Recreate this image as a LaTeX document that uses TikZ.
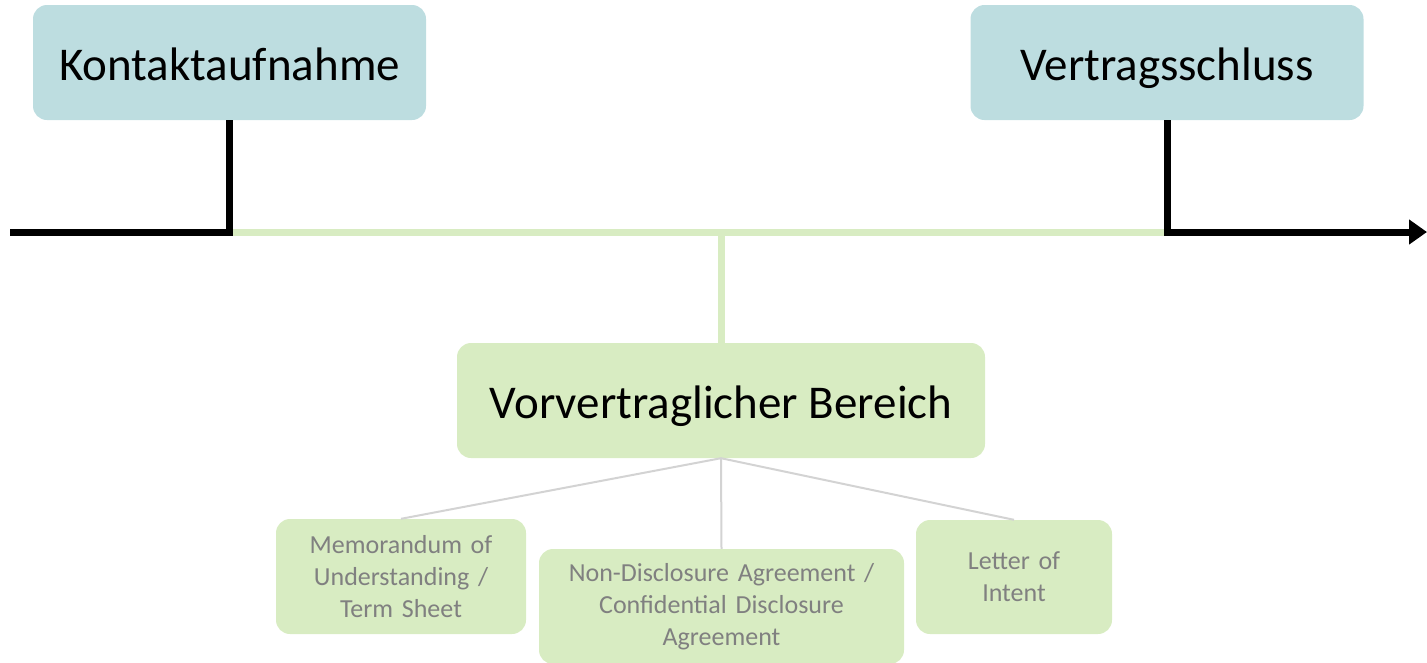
\documentclass[tikz,border=0pt]{standalone}
\usepackage{fontspec}
\setmainfont{Carlito}
\usetikzlibrary{arrows.meta}

\definecolor{phaseblue}{HTML}{BDDDE0}
\definecolor{phasegreen}{HTML}{D8ECC2}
\definecolor{subgray}{HTML}{808080}
\definecolor{linkgray}{HTML}{D3D3D3}

\begin{document}
\begin{tikzpicture}[x=1pt,y=-1pt,
    phase/.style={rounded corners=14pt,inner sep=0pt,text height=40pt,text depth=5pt,
      font=\fontsize{47}{55}\selectfont,text=black},
    milestone/.style={phase,fill=phaseblue,minimum width=393pt,minimum height=115pt},
    area/.style={phase,fill=phasegreen,minimum width=528pt,minimum height=115pt},
    subarea/.style={rounded corners=14pt,inner sep=0pt,fill=phasegreen,
      text=subgray,align=center,font=\fontsize{26}{32}\selectfont},
    timeline/.style={line width=7pt,line join=miter},
    link/.style={draw=linkgray,line width=2pt}
   ]
\useasboundingbox (0,0) rectangle (1427,662);

% phases
\node[milestone] (kontakt) at (229.5,62.5) {Kontaktaufnahme};
\node[milestone] (vertrag) at (1167,62.5) {Vertragsschluss};
\node[area] (bereich) at (721,400.5) {Vorvertraglicher Bereich};

% documents
\node[subarea,minimum width=250pt,minimum height=115pt,text width=240pt]
  (mou) at (401,576.5) {Memorandum of\\Understanding /\\Term Sheet};
\node[subarea,minimum width=365pt,minimum height=115pt,text width=355pt]
  (nda) at (721.5,606.5) {Non-Disclosure Agreement /\\Confidential Disclosure\\Agreement};
\node[subarea,minimum width=196pt,minimum height=114pt,text width=186pt]
  (loi) at (1014,577) {Letter of\\Intent};

\coordinate (start) at (10,232);
\coordinate (end) at (1427,232);

% time line
\draw[timeline,phasegreen] (kontakt.south |- start) -- (vertrag.south |- start);
\draw[timeline,phasegreen] (bereich.north |- start) -- (bereich.north);
\draw[timeline] (start) -| (kontakt.south);
\draw[timeline,-{Triangle[length=18pt,width=24pt]}] (vertrag.south) |- (end);

% documents links
\draw[link] (bereich.south) -- (mou.north);
\draw[link] (bereich.south) -- (nda.north);
\draw[link] (bereich.south) -- (loi.north);
\end{tikzpicture}
\end{document}
